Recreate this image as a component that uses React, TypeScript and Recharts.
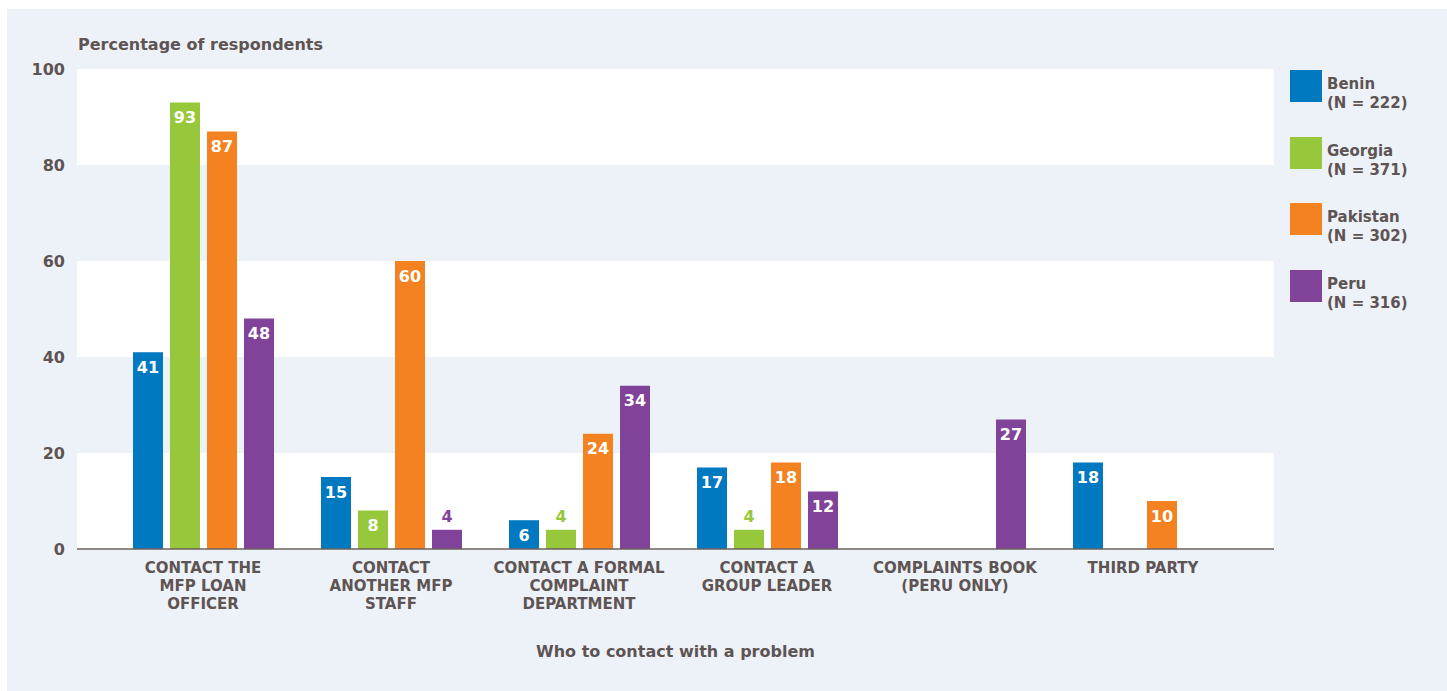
import React from "react";
import {
  BarChart,
  Bar,
  XAxis,
  YAxis,
  CartesianGrid,
  Legend,
  LabelList,
  Label,
} from "recharts";

const CATEGORIES = [
  "CONTACT THE\nMFP LOAN\nOFFICER",
  "CONTACT\nANOTHER MFP\nSTAFF",
  "CONTACT A FORMAL\nCOMPLAINT\nDEPARTMENT",
  "CONTACT A\nGROUP LEADER",
  "COMPLAINTS BOOK\n(PERU ONLY)",
  "THIRD PARTY",
];

const BENIN = [41, 15, 6, 17, null, 18];
const GEORGIA = [93, 8, 4, 4, null, null];
const PAKISTAN = [87, 60, 24, 18, null, 10];
const PERU = [48, 4, 34, 12, 27, null];

const Y_TICKS = [0, 20, 40, 60, 80, 100];

const SERIES = [
  { key: "benin", name: "Benin", n: "(N = 222)", color: "#0079c1", values: BENIN },
  { key: "georgia", name: "Georgia", n: "(N = 371)", color: "#97c83c", values: GEORGIA },
  { key: "pakistan", name: "Pakistan", n: "(N = 302)", color: "#f58220", values: PAKISTAN },
  { key: "peru", name: "Peru", n: "(N = 316)", color: "#81439a", values: PERU },
];

const TEXT = "#5e5453";
const PANEL = "#edf2f9";
const FONT = "'DejaVu Sans', sans-serif";

const data = CATEGORIES.map((cat, i) => {
  const row: Record<string, any> = { cat };
  SERIES.forEach((s) => (row[s.key] = s.values[i]));
  return row;
});

function CategoryTick({ x, y, payload }: any) {
  const lines = String(payload.value).split("\n");
  return (
    <text
      x={x}
      y={y + 16}
      textAnchor="middle"
      fill={TEXT}
      fontSize={15}
      fontWeight={700}
      fontFamily={FONT}
    >
      {lines.map((line, i) => (
        <tspan key={i} x={x} dy={i === 0 ? 0 : 18}>
          {line}
        </tspan>
      ))}
    </text>
  );
}

function makeBarLabel(color: string) {
  return function BarLabel({ x, y, width, value }: any) {
    if (value == null) return null;
    const inside = value >= 5;
    return (
      <text
        x={x + width / 2}
        y={inside ? y + 15 : y - 13}
        textAnchor="middle"
        dominantBaseline="central"
        fill={inside ? "#ffffff" : color}
        fontSize={16}
        fontWeight={700}
        fontFamily={FONT}
      >
        {value}
      </text>
    );
  };
}

function LegendBox() {
  return (
    <div style={{ fontFamily: FONT, color: TEXT }}>
      {SERIES.map((s) => (
        <div key={s.key} style={{ display: "flex", height: 66.7 }}>
          <div style={{ width: 32, height: 32, background: s.color, flexShrink: 0 }} />
          <div
            style={{
              marginLeft: 5,
              marginTop: 5,
              fontSize: 15,
              fontWeight: 700,
              lineHeight: "19px",
            }}
          >
            <div>{s.name}</div>
            <div>{s.n}</div>
          </div>
        </div>
      ))}
    </div>
  );
}

export default function App() {
  return (
    <div style={{ position: "absolute", left: 0, top: 0, width: 1447, height: 691, background: "#ffffff" }}>
      <div style={{ position: "absolute", left: 7, top: 9, width: 1440, height: 682, background: PANEL }} />
      <div style={{ position: "absolute", left: 0, top: 0 }}>
        <BarChart
          width={1447}
          height={691}
          data={data}
          margin={{ top: 69, right: 173, bottom: 22, left: 0 }}
          barSize={30}
          barGap={7}
        >
          <CartesianGrid
            vertical={false}
            stroke="none"
            horizontalFill={["#ffffff", PANEL]}
          />
          <XAxis
            dataKey="cat"
            height={120}
            interval={0}
            padding={{ left: 32, right: 37 }}
            tickLine={false}
            axisLine={{ stroke: "#6b605d", strokeWidth: 1.5 }}
            tick={<CategoryTick />}
          >
            <Label
              value="Who to contact with a problem"
              position="insideBottom"
              offset={12}
              fill={TEXT}
              fontSize={16}
              fontWeight={700}
              fontFamily={FONT}
            />
          </XAxis>
          <YAxis
            width={77}
            domain={[0, 100]}
            ticks={Y_TICKS}
            tickLine={false}
            axisLine={false}
            tickMargin={6}
            tick={{ fill: TEXT, fontSize: 16, fontWeight: 700, fontFamily: FONT }}
          >
            <Label
              content={({ viewBox }: any) => (
                <text
                  x={viewBox.x + viewBox.width + 1}
                  y={viewBox.y - 19}
                  fill={TEXT}
                  fontSize={16}
                  fontWeight={700}
                  fontFamily={FONT}
                >
                  Percentage of respondents
                </text>
              )}
            />
          </YAxis>
          <Legend
            layout="horizontal"
            verticalAlign="middle"
            align="center"
            wrapperStyle={{ left: 1290, top: 70, width: 150 }}
            content={<LegendBox />}
          />
          {SERIES.map((s) => (
            <Bar key={s.key} dataKey={s.key} name={s.name} fill={s.color} isAnimationActive={false}>
              <LabelList dataKey={s.key} content={makeBarLabel(s.color)} />
            </Bar>
          ))}
        </BarChart>
      </div>
    </div>
  );
}
